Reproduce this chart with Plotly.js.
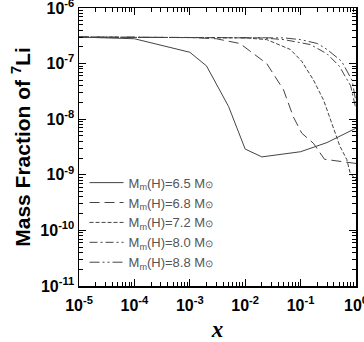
<!DOCTYPE html>
<html><head><meta charset="utf-8">
<script src="https://cdn.plot.ly/plotly-3.0.1.min.js"></script>
<style>body{margin:0;padding:0;background:#fff}#plot{width:364px;height:342px}</style>
</head><body><div id="plot"></div>
<script>
const names = ["6.5","6.8","7.2","8.0","8.8"];
const x65 = [1e-5, 1e-4, 1e-3, 2e-3, 5e-3, 1e-2, 2e-2, 1e-1, 3e-1, 1];
const y65 = [3e-7, 2.8e-7, 1.6e-7, 9.1e-8, 1.7e-8, 2.9e-9, 2.1e-9, 2.6e-9, 3.8e-9, 6.9e-9];
const x68 = [1e-5, 1e-3, 3e-3, 8e-3, 2.45e-2, 4.9e-2, 7.4e-2, 1.05e-1, 1.7e-1, 2.7e-1, 1];
const y68 = [3e-7, 2.95e-7, 2.8e-7, 2.3e-7, 1.0e-7, 3.4e-8, 1.1e-8, 5.6e-9, 3.7e-9, 1.9e-9, 1.6e-9];
const x72 = [1e-5, 1e-2, 2.45e-2, 6.5e-2, 1.05e-1, 1.7e-1, 2.6e-1, 3.9e-1, 5.1e-1, 6.8e-1, 7.8e-1, 1];
const y72 = [3e-7, 2.9e-7, 2.7e-7, 1.8e-7, 1.1e-7, 5.1e-8, 2.2e-8, 7.4e-9, 3.3e-9, 1.9e-9, 1.1e-9, 8e-10];
const x80 = [1e-5, 2e-2, 5e-2, 1.5e-1, 3e-1, 5e-1, 8e-1, 1];
const y80 = [3e-7, 2.9e-7, 2.7e-7, 2.2e-7, 1.5e-7, 9e-8, 4e-8, 1.5e-8];
const x88 = [1e-5, 5e-2, 1e-1, 2e-1, 3e-1, 5.5e-1, 8.5e-1, 1];
const y88 = [3e-7, 2.9e-7, 2.7e-7, 2.3e-7, 1.8e-7, 1.1e-7, 5e-8, 2e-8];
const xTickVals = [1e-5,1e-4,1e-3,1e-2,1e-1,1];
const xTickText = ["10<sup>-5</sup>","10<sup>-4</sup>","10<sup>-3</sup>","10<sup>-2</sup>","10<sup>-1</sup>","10<sup>0</sup>"];
const yTickVals = [1e-11,1e-10,1e-9,1e-8,1e-7,1e-6];
const yTickText = ["10<sup>-11</sup>","10<sup>-10</sup>","10<sup>-9</sup>","10<sup>-8</sup>","10<sup>-7</sup>","10<sup>-6</sup>"];

function minorVals(lo, hi){ const v=[]; for(let e=lo;e<hi;e++){ for(let m=2;m<=9;m++) v.push(m*Math.pow(10,e)); } return v; }
const xMinor = minorVals(-5,0), yMinor = minorVals(-11,-6);

const xs=[x65,x68,x72,x80,x88], ys=[y65,y68,y72,y80,y88];
const dashes=["solid","10px,5px","4px,2px","8px,3px,2px,3px","10px,3px,2px,3px,2px,3px"];
const col="#444";
const traces = names.map((n,i)=>({
  x: xs[i], y: ys[i], type:"scatter", mode:"lines",
  name: "M<sub>m</sub>(H)="+n+" M<span style=\"font-size:10px\">⊙</span>",
  line:{color:col, width:1, dash:dashes[i]}
}));
traces.push({x:[1e-5], y:[1e-6], xaxis:"x2", yaxis:"y2", type:"scatter", mode:"markers", marker:{opacity:0}, showlegend:false, hoverinfo:"skip"});
const tf = {family:"Arial, Liberation Sans, sans-serif", size:16, color:"#000", weight:"bold"};
const axisCommon = {
  type:"log", showline:true, linecolor:"#000", linewidth:1.5, mirror:"ticks", automargin:false,
  ticks:"inside", ticklen:7, tickwidth:1.2, tickcolor:"#000", showgrid:false, zeroline:false,
  tickmode:"array", ticklabeloverflow:"allow", tickfont:tf
};
const minorCommon = {
  type:"log", showline:false, mirror:"ticks", automargin:false, ticks:"inside", ticklen:4, tickwidth:1,
  tickcolor:"#000", showgrid:false, zeroline:false, tickmode:"array", showticklabels:false
};
const layout = {
  width:364, height:342, margin:{l:79,r:8,t:8,b:56},
  paper_bgcolor:"#fff", plot_bgcolor:"#fff", showlegend:true,
  xaxis: Object.assign({}, axisCommon, {range:[-5,0], tickvals:xTickVals, ticktext:xTickText, ticklabelstandoff:4,
    title:{text:"<i>x</i>", font:{family:"Liberation Serif, Times New Roman, serif", size:23, color:"#000", weight:"bold"}, standoff:14}}),
  yaxis: Object.assign({}, axisCommon, {range:[-11,-6], tickvals:yTickVals, ticktext:yTickText,
    title:{text:"<b>Mass Fraction of <sup>7</sup>Li</b>", font:{family:"Arial, Liberation Sans, sans-serif", size:21, color:"#000"}, standoff:4}}),
  xaxis2: Object.assign({}, minorCommon, {range:[-5,0], tickvals:xMinor, overlaying:"x", anchor:"y2"}),
  yaxis2: Object.assign({}, minorCommon, {range:[-11,-6], tickvals:yMinor, overlaying:"y", anchor:"x2"}),
  legend:{x:0.02, y:0.03, xanchor:"left", yanchor:"bottom", bgcolor:"rgba(0,0,0,0)",
    font:{family:"Arial, Liberation Sans, sans-serif", size:13, color:"#555"}, tracegroupgap:0, itemwidth:34}
};
Plotly.newPlot("plot", traces, layout, {staticPlot:true});
</script></body></html>
